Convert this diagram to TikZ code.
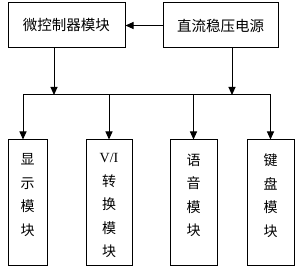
\documentclass[tikz,border=0pt]{standalone}
\usepackage{fontspec}
\newfontfamily\cjk{Noto Sans CJK SC}
\setmainfont{Liberation Serif}
\usetikzlibrary{arrows.meta,positioning}
\tikzset{
  box/.style={draw, line width=1pt, inner sep=0pt},
  arr/.style={line width=1pt, -{Triangle[width=7pt,length=8pt]}},
  ln/.style={line width=1pt},
  ttext/.style={font=\cjk\fontsize{14.5}{16}\selectfont},
  vtext/.style={align=center, anchor=north, inner sep=0pt, font=\cjk\fontsize{14}{23.5}\selectfont}
}
\begin{document}
\begin{tikzpicture}[x=1pt,y=-1pt]
\useasboundingbox (0,0) rectangle (300,272);
\node[box, minimum width=117pt, minimum height=45pt, ttext] (mcu) at (66.5,25.5) {微控制器模块};
\node[box, minimum width=115pt, minimum height=45pt, ttext] (pwr) at (220.5,25.5) {直流稳压电源};
\node[box, minimum width=39pt, minimum height=126pt] (b1) at (27.5,203) {};
\node[box, minimum width=46pt, minimum height=126pt] (b2) at (109,203) {};
\node[box, minimum width=47pt, minimum height=126pt] (b3) at (193.5,203) {};
\node[box, minimum width=47pt, minimum height=126pt] (b4) at (270.5,203) {};
\node[vtext] (t1) at ([yshift=-14pt]b1.north) {显\\示\\模\\块};
\node[vtext] (t2) at ([yshift=-14pt]b2.north) {{\rmfamily\fontsize{14}{23.5}\selectfont V/I}\\转\\换\\模\\块};
\node[vtext] (t3) at ([yshift=-14pt]b3.north) {语\\音\\模\\块};
\node[vtext] (t4) at ([yshift=-14pt]b4.north) {键\\盘\\模\\块};
\coordinate (c1) at (23,95);
\coordinate (c2) at (109,95);
\coordinate (c3) at (193.5,95);
\coordinate (c4) at (270.5,95);
\coordinate (m) at (54,95);
\coordinate (p) at (232,95);
\draw[arr] (pwr.west) -- (mcu.east);
\draw[arr] (mcu.south -| m) -- (m);
\draw[arr] (pwr.south -| p) -- (p);
\draw[ln] (c1) -- (c4);
\draw[arr] (c1) -- (c1 |- b1.north);
\draw[arr] (c2) -- (b2.north);
\draw[arr] (c3) -- (b3.north);
\draw[arr] (c4) -- (b4.north);
\end{tikzpicture}
\end{document}
